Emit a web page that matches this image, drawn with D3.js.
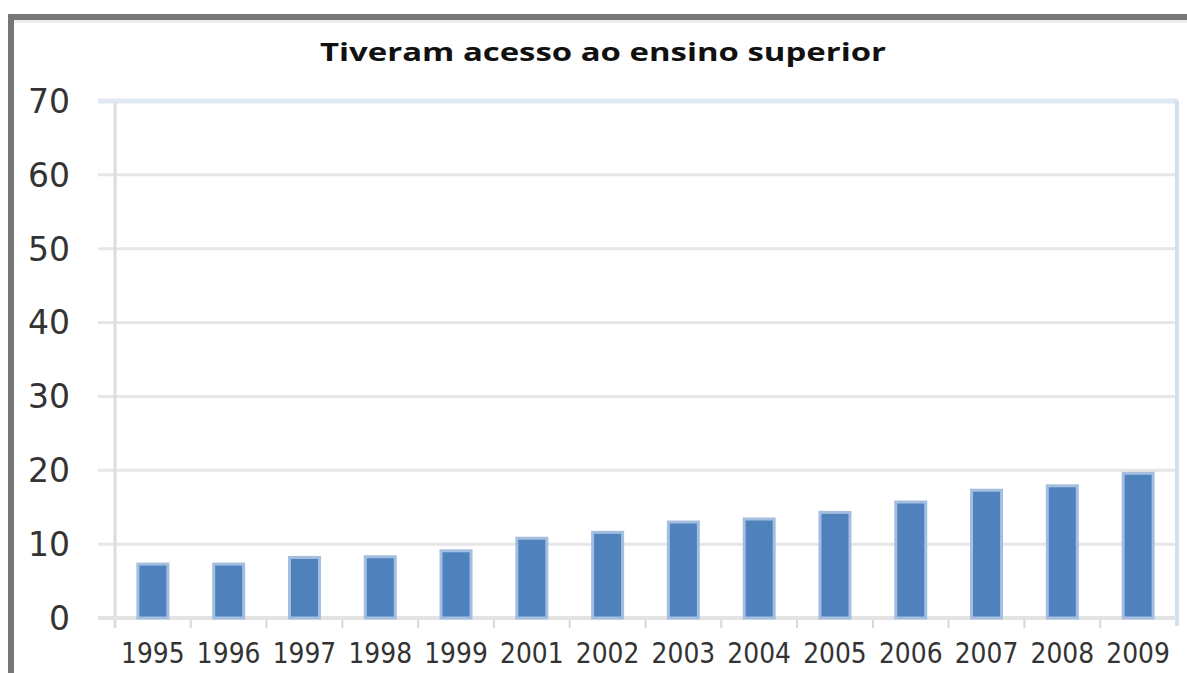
<!DOCTYPE html>
<html><head><meta charset="utf-8">
<script src="https://cdn.jsdelivr.net/npm/d3@7/dist/d3.min.js"></script>
<style>html,body{margin:0;padding:0;background:#fff;overflow:hidden}</style>
</head><body>
<svg id="c" width="1187" height="673"></svg>
<script>
const title = "Tiveram acesso ao ensino superior";
const categories = ["1995","1996","1997","1998","1999","2001","2002","2003","2004","2005","2006","2007","2008","2009"];
const values = [7.3, 7.3, 8.2, 8.3, 9.1, 10.8, 11.6, 13.0, 13.4, 14.3, 15.7, 17.3, 17.9, 19.6];
const yTicks = [0,10,20,30,40,50,60,70];

const svg = d3.select("#c");
const L = 115, R = 1176, T = 101, B = 618;
const x = d3.scaleBand().domain(categories).range([L, R]).padding(0);
const y = d3.scaleLinear().domain([0,70]).range([B, T]);

// outer frame
svg.append("rect").attr("x",8).attr("y",14).attr("width",1187).attr("height",6).attr("fill","#777");
svg.append("rect").attr("x",8).attr("y",14).attr("width",6).attr("height",673).attr("fill","#777");
svg.append("rect").attr("x",14).attr("y",20).attr("width",1180).attr("height",3).attr("fill","#ececec");

// title
svg.append("text").attr("x",603).attr("y",61).attr("text-anchor","middle")
  .attr("font-family","'Open Sans', 'DejaVu Sans', sans-serif").attr("font-weight","bold")
  .attr("font-size",25).attr("fill","#111").attr("textLength",566).attr("lengthAdjust","spacingAndGlyphs").text(title);

// gridlines
svg.append("g").selectAll("line").data(yTicks.filter(d=>d>0 && d<70)).join("line")
  .attr("x1",98).attr("x2",R).attr("y1",d=>y(d)).attr("y2",d=>y(d))
  .attr("stroke","#e6e6e6").attr("stroke-width",3);
// top border (70)
svg.append("line").attr("x1",98).attr("x2",R+2).attr("y1",y(70)).attr("y2",y(70))
  .attr("stroke","#dfe8f3").attr("stroke-width",5);
// right border
svg.append("line").attr("x1",R+1).attr("x2",R+1).attr("y1",y(70)).attr("y2",B+8)
  .attr("stroke","#d3dff0").attr("stroke-width",4);
// left axis
svg.append("line").attr("x1",L).attr("x2",L).attr("y1",y(70)+2).attr("y2",B+10)
  .attr("stroke","#dcdcdc").attr("stroke-width",3);
// baseline
svg.append("line").attr("x1",98).attr("x2",R).attr("y1",B).attr("y2",B)
  .attr("stroke","#e3e3e3").attr("stroke-width",4);
// category tick marks
svg.append("g").selectAll("line").data(categories.slice(1)).join("line")
  .attr("x1",d=>x(d)).attr("x2",d=>x(d)).attr("y1",B+2).attr("y2",B+10)
  .attr("stroke","#d6d6d6").attr("stroke-width",2);

// y labels
svg.append("g").selectAll("text").data(yTicks).join("text")
  .attr("x",70).attr("y",d=>y(d)).attr("dy","0.36em").attr("text-anchor","end")
  .attr("font-family","'DejaVu Sans', sans-serif").attr("font-size",33).attr("fill","#333")
  .text(d=>d);

// bars
const bw = 30;
svg.append("g").selectAll("rect").data(values).join("rect")
  .attr("x",(d,i)=>x(categories[i]) + x.bandwidth()/2 - bw/2)
  .attr("y",d=>y(d))
  .attr("width",bw)
  .attr("height",d=>y(0)-y(d))
  .attr("fill","#4f81bd").attr("stroke","#a4bee0").attr("stroke-width",3);

// x labels
svg.append("g").selectAll("text").data(categories).join("text")
  .attr("x",d=>x(d)+x.bandwidth()/2).attr("y",663).attr("text-anchor","middle")
  .attr("font-family","'DejaVu Sans', sans-serif").attr("font-size",25).attr("fill","#333")
  .attr("transform",d=>`translate(0,${-663*0.12}) scale(1,1.12)`)
  .text(d=>d);
</script>
</body></html>
